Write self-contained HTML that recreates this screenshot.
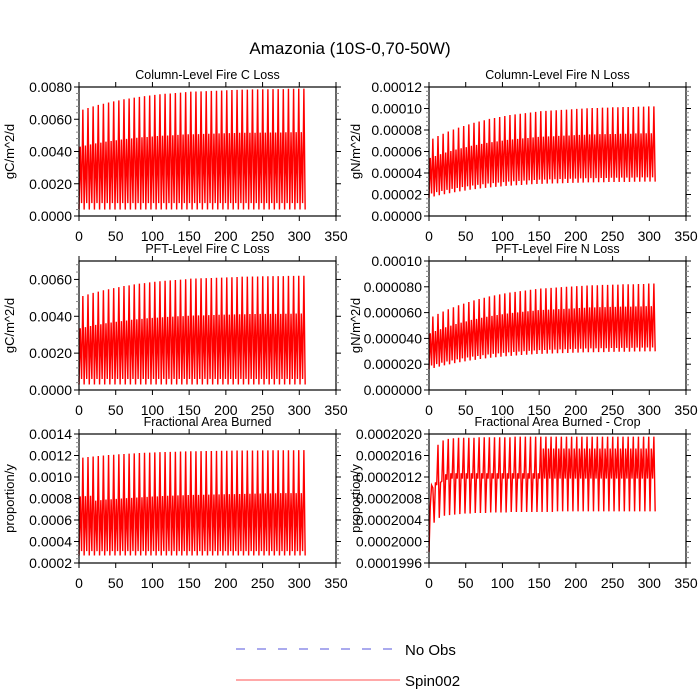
<!DOCTYPE html>
<html><head><meta charset="utf-8">
<style>
html,body{margin:0;padding:0;background:#fff;}
svg{display:block;font-family:"Liberation Sans",sans-serif;}
</style></head>
<body>
<svg id="chart" width="700" height="700" viewBox="0 0 700 700" xmlns="http://www.w3.org/2000/svg">
<rect width="700" height="700" fill="#fff"/>
<text x="350" y="54" font-size="17" text-anchor="middle">Amazonia (10S-0,70-50W)</text>
<g>
<line x1="236" y1="649" x2="393" y2="649" stroke="#5555dd" stroke-width="1" stroke-dasharray="9,12"/>
<text x="405" y="655" font-size="15">No Obs</text>
<line x1="236" y1="680" x2="400" y2="680" stroke="#ff5050" stroke-width="1"/>
<text x="405" y="686" font-size="15">Spin002</text>
</g>
<g id="panels"></g>
</svg>
<script>
// ---- data (each array has one value per annual cycle, 44 cycles, period 7 yrs) ----
const cycleYears = 7;
const xTicks = [0,50,100,150,200,250,300,350];

// Panel 1: Column-Level Fire C Loss (units 1e-4 gC/m^2/d)
const p1Peak = [66,67,68,68.9,69.6,70.4,71.1,71.7,72.4,72.9,73.4,73.9,74.3,74.7,75.1,75.5,75.8,76,76.3,76.5,76.8,77.1,77.2,77.3,77.4,77.6,77.7,77.8,78,78.1,78.2,78.4,78.4,78.5,78.5,78.6,78.6,78.7,78.7,78.7,78.9,78.9,79,79];
const p1Mid = [43,43.7,44.4,45,45.5,46.1,46.5,47,47.4,47.8,48.1,48.5,48.8,49,49.3,49.6,49.8,49.9,50.1,50.3,50.5,50.7,50.7,50.8,50.9,51,51.1,51.2,51.3,51.4,51.5,51.6,51.6,51.6,51.6,51.7,51.7,51.8,51.8,51.8,51.9,51.9,52,52];
const p1Low = [4,4,4,4,4,4,4,4,4,4,4,4,4,4,4,4,4,4,4,4,4,4,4,4,4,4,4,4,4,4,4,4,4,4,4,4,4,4,4,4,4,4,4,4];
const p1Low2 = [8,8,8,8,8,8,8,8,8,8,8,8,8,8,8,8,8,8,8,8,8,8,8,8,8,8,8,8,8,8,8,8,8,8,8,8,8,8,8,8,8,8,8,8];
const p1Ticks = ["0.0000","0.0020","0.0040","0.0060","0.0080"];

// Panel 2: PFT-Level Fire C Loss (units 1e-4)
const p2Peak = [51,51.9,52.7,53.4,54.1,54.7,55.3,55.8,56.4,56.8,57.3,57.7,58,58.4,58.7,59,59.3,59.5,59.7,59.9,60.1,60.4,60.5,60.6,60.7,60.8,60.9,61,61.1,61.2,61.3,61.5,61.5,61.6,61.6,61.7,61.7,61.8,61.8,61.8,61.9,61.9,62,62];
const p2Mid = [33.5,34.1,34.7,35.3,35.7,36.2,36.6,37,37.4,37.7,38.1,38.4,38.6,38.9,39.1,39.3,39.5,39.7,39.8,40,40.1,40.3,40.4,40.5,40.5,40.6,40.7,40.8,40.9,40.9,41,41.1,41.1,41.2,41.2,41.3,41.3,41.3,41.3,41.3,41.4,41.4,41.5,41.5];
const p2Low = [3,3,3,3,3,3,3,3,3,3,3,3,3,3,3,3,3,3,3,3,3,3,3,3,3,3,3,3,3,3,3,3,3,3,3,3,3,3,3,3,3,3,3,3];
const p2Low2 = [6,6,6,6,6,6,6,6,6,6,6,6,6,6,6,6,6,6,6,6,6,6,6,6,6,6,6,6,6,6,6,6,6,6,6,6,6,6,6,6,6,6,6,6];
const p2Ticks = ["0.0000","0.0020","0.0040","0.0060"];

// Panel 3: Fractional Area Burned (units 1e-5)
const p3Peak = [118,118.6,119.1,119.5,120,120.4,120.7,121.1,121.4,121.7,122,122.3,122.5,122.7,122.9,123.1,123.3,123.4,123.5,123.7,123.8,124,124,124.1,124.2,124.2,124.3,124.4,124.4,124.5,124.6,124.7,124.7,124.7,124.7,124.8,124.8,124.9,124.9,124.9,124.9,124.9,125,125];
const p3Mid = [82,82.2,82.5,78,78.5,79,79.3,79.6,80,80.3,80.6,80.9,81.2,81.5,81.8,82,82.3,82.5,82.7,82.9,83,83.2,83.3,83.4,83.5,83.6,83.7,83.8,83.9,84,84.1,84.2,84.3,84.4,84.5,84.6,84.7,84.8,84.9,85,85,85,85,85];
const p3Low = [27,27,27,27,27,27,27,27,27,27,27,27,27,27,27,27,27,27,27,27,27,27,27,27,27,27,27,27,27,27,27,27,27,27,27,27,27,27,27,27,27,27,27,27];
const p3Low2 = [31,31,31,31,31,31,31,31,31,31,31,31,31,31,31,31,31,31,31,31,31,31,31,31,31,31,31,31,31,31,31,31,31,31,31,31,31,31,31,31,31,31,31,31];
const p3Ticks = ["0.0002","0.0004","0.0006","0.0008","0.0010","0.0012","0.0014"];

// Panel 4: Column-Level Fire N Loss (units 1e-6)
const p4Peak = [72,74.4,76.5,78.6,80.4,82.2,83.7,85.2,86.7,87.9,89.1,90.3,91.2,92.1,93,93.9,94.5,95.1,95.7,96.3,96.9,97.5,97.8,98.1,98.4,98.7,99,99.3,99.6,99.9,100.2,100.5,100.5,100.8,100.8,101.1,101.1,101.4,101.4,101.4,101.7,101.7,102,102];
const p4Mid = [54,55.8,57.5,59.1,60.4,61.8,63,64.1,65.3,66.2,67.1,68,68.7,69.4,70.1,70.8,71.3,71.7,72.2,72.6,73.1,73.6,73.8,74,74.2,74.5,74.7,74.9,75.2,75.4,75.6,75.9,75.9,76.1,76.1,76.3,76.3,76.5,76.5,76.5,76.8,76.8,77,77];
const p4Low = [17,18.2,19.3,20.3,21.2,22.1,22.9,23.6,24.4,25,25.6,26.2,26.6,27.1,27.5,28,28.3,28.6,28.9,29.2,29.5,29.8,29.9,30.1,30.2,30.4,30.5,30.7,30.8,31,31.1,31.3,31.3,31.4,31.4,31.6,31.6,31.7,31.7,31.7,31.9,31.9,32,32];
const p4Low2 = [21,22.2,23.3,24.3,25.2,26.1,26.9,27.6,28.4,29,29.6,30.2,30.6,31.1,31.5,32,32.3,32.6,32.9,33.2,33.5,33.8,33.9,34.1,34.2,34.4,34.5,34.7,34.8,35,35.1,35.3,35.3,35.4,35.4,35.6,35.6,35.7,35.7,35.7,35.9,35.9,36,36];
const p4Ticks = ["0.00000","0.00002","0.00004","0.00006","0.00008","0.00010","0.00012"];

// Panel 5: PFT-Level Fire N Loss (units 1e-6)
const p5Peak = [57,59,60.8,62.6,64.1,65.7,66.9,68.2,69.5,70.5,71.5,72.6,73.3,74.1,74.9,75.6,76.1,76.6,77.1,77.7,78.2,78.7,78.9,79.2,79.4,79.7,80,80.2,80.5,80.7,81,81.2,81.2,81.5,81.5,81.7,81.7,82,82,82,82.2,82.2,82.5,82.5];
const p5Mid = [44,45.7,47.2,48.6,49.9,51.1,52.2,53.2,54.3,55.1,56,56.8,57.4,58.1,58.7,59.3,59.8,60.2,60.6,61,61.4,61.9,62.1,62.3,62.5,62.7,62.9,63.1,63.3,63.5,63.7,64,64,64.2,64.2,64.4,64.4,64.6,64.6,64.6,64.8,64.8,65,65];
const p5Low = [16,17.1,18.1,19.1,19.9,20.8,21.5,22.2,22.9,23.4,24,24.5,25,25.4,25.8,26.2,26.5,26.8,27.1,27.3,27.6,27.9,28,28.2,28.3,28.5,28.6,28.7,28.9,29,29.2,29.3,29.3,29.4,29.4,29.6,29.6,29.7,29.7,29.7,29.9,29.9,30,30];
const p5Low2 = [19,20.1,21.1,22.1,22.9,23.8,24.5,25.2,25.9,26.4,27,27.5,28,28.4,28.8,29.2,29.5,29.8,30.1,30.3,30.6,30.9,31,31.2,31.3,31.5,31.6,31.7,31.9,32,32.2,32.3,32.3,32.4,32.4,32.6,32.6,32.7,32.7,32.7,32.9,32.9,33,33];
const p5Ticks = ["0.000000","0.000020","0.000040","0.000060","0.000080","0.00010"];

// Panel 6: Fractional Area Burned - Crop (value = 0.0002 + v*1e-7)
const p6Peak = [1.0,1.8,1.88,1.91,1.92,1.93,1.93,1.93,1.93,1.94,1.94,1.94,1.94,1.94,1.94,1.94,1.95,1.95,1.95,1.95,1.95,1.95,1.95,1.95,1.95,1.95,1.95,1.95,1.95,1.95,1.95,1.95,1.95,1.95,1.95,1.95,1.95,1.95,1.95,1.95,1.95,1.95,1.95,1.95];
const p6Mid = [0.65,1.1,1.1,1.25,1.27,1.27,1.27,1.27,1.27,1.27,1.27,1.27,1.27,1.27,1.27,1.27,1.27,1.27,1.27,1.27,1.27,1.27,1.73,1.73,1.73,1.73,1.73,1.73,1.73,1.73,1.73,1.73,1.73,1.73,1.73,1.73,1.73,1.73,1.73,1.73,1.73,1.73,1.73,1.73];
const p6Low = [-0.2,0.35,0.44,0.48,0.49,0.5,0.51,0.52,0.52,0.53,0.53,0.53,0.54,0.54,0.54,0.54,0.55,0.55,0.55,0.55,0.55,0.55,0.55,0.55,0.55,0.56,0.56,0.56,0.56,0.56,0.56,0.56,0.56,0.56,0.56,0.56,0.56,0.56,0.56,0.56,0.56,0.56,0.56,0.56];
const p6Low2 = [1.05,1.05,1.12,1.15,1.17,1.17,1.17,1.17,1.17,1.17,1.17,1.17,1.17,1.17,1.17,1.17,1.17,1.17,1.17,1.17,1.17,1.17,1.17,1.17,1.17,1.17,1.17,1.17,1.17,1.17,1.17,1.17,1.17,1.17,1.17,1.17,1.17,1.17,1.17,1.17,1.17,1.17,1.17,1.17];
const p6Ticks = ["0.0001996","0.0002000","0.0002004","0.0002008","0.0002012","0.0002016","0.0002020"];

const panels = [
 {name:"column-fire-c-loss", title:"Column-Level Fire C Loss", ytitle:"gC/m^2/d", col:0,row:0, scale:1e-4, off:0, ymin:0, ymax:0.008, tStart:0, tStep:0.002, ticks:p1Ticks, minor:4, peak:p1Peak, mid:p1Mid, low:p1Low, low2:p1Low2},
 {name:"column-fire-n-loss", title:"Column-Level Fire N Loss", ytitle:"gN/m^2/d", col:1,row:0, scale:1e-6, off:0, ymin:0, ymax:0.00012, tStart:0, tStep:0.00002, ticks:p4Ticks, minor:4, peak:p4Peak, mid:p4Mid, low:p4Low, low2:p4Low2},
 {name:"pft-fire-c-loss", title:"PFT-Level Fire C Loss", ytitle:"gC/m^2/d", col:0,row:1, scale:1e-4, off:0, ymin:0, ymax:0.007, tStart:0, tStep:0.002, ticks:p2Ticks, minor:4, peak:p2Peak, mid:p2Mid, low:p2Low, low2:p2Low2},
 {name:"pft-fire-n-loss", title:"PFT-Level Fire N Loss", ytitle:"gN/m^2/d", col:1,row:1, scale:1e-6, off:0, ymin:0, ymax:0.0001, tStart:0, tStep:0.00002, ticks:p5Ticks, minor:4, peak:p5Peak, mid:p5Mid, low:p5Low, low2:p5Low2},
 {name:"fractional-area-burned", title:"Fractional Area Burned", ytitle:"proportion/y", col:0,row:2, scale:1e-5, off:0, ymin:0.0002, ymax:0.0014, tStart:0.0002, tStep:0.0002, ticks:p3Ticks, minor:4, peak:p3Peak, mid:p3Mid, low:p3Low, low2:p3Low2},
 {name:"fractional-area-burned-crop", title:"Fractional Area Burned - Crop", ytitle:"proportion/y", col:1,row:2, scale:1e-6, off:0.0002, ymin:0.0001996, ymax:0.000202, tStart:0.0001996, tStep:0.0000004, ticks:p6Ticks, minor:3, peak:p6Peak, mid:p6Mid, low:p6Low, low2:p6Low2}
];

const NS="http://www.w3.org/2000/svg";
const colX=[[79,336],[429,686]];
const rowY=[[87,216],[261,390],[434,563]];
const root=document.getElementById('panels');
function mk(tag,attrs,parent){const e=document.createElementNS(NS,tag);for(const k in attrs)e.setAttribute(k,attrs[k]);parent.appendChild(e);return e;}

panels.forEach(p=>{
  const [x0,x1]=colX[p.col],[y0,y1]=rowY[p.row];
  const xs=v=>x0+(v-0)/350*(x1-x0);
  const ys=v=>y1-(v-p.ymin)/(p.ymax-p.ymin)*(y1-y0);
  const g=mk('g',{},root);
  
  
  let pts=[];
  const n=p.peak.length;
  for(let i=0;i<n;i++){
    const t=i*cycleYears;
    const vals=[p.low[i],p.mid[i],p.low2[i],p.peak[i]];
    vals.forEach((v,k)=>{pts.push(xs(t+k*cycleYears/4).toFixed(2)+','+ys(p.off+v*p.scale).toFixed(2));});
  }
  pts.push(xs(n*cycleYears).toFixed(2)+','+ys(p.off+p.low[n-1]*p.scale).toFixed(2));
  const line=mk('polyline',{points:pts.join(' '),fill:'none',stroke:'#ff0000','stroke-width':'1.4','stroke-linejoin':'miter'},g);
  
  
  const fr=mk('rect',{x:x0,y:y0,width:x1-x0,height:y1-y0,fill:'none',stroke:'#000','stroke-width':'1.2'},g);
  
  
  xTicks.forEach(v=>{
    const x=xs(v);
    mk('line',{x1:x,y1:y1,x2:x,y2:y1+5,stroke:'#000','stroke-width':'1'},g);
    mk('line',{x1:x,y1:y0,x2:x,y2:y0-5,stroke:'#000','stroke-width':'1'},g);
    const tl=mk('text',{x:x,y:y1+25,'font-size':'14','text-anchor':'middle'},g);
    tl.textContent=String(v);
    
    
  });
  p.ticks.forEach((lab,i)=>{
    const v=p.tStart+i*p.tStep;
    const y=ys(v);
    mk('line',{x1:x0-5,y1:y,x2:x0,y2:y,stroke:'#000','stroke-width':'1'},g);
    mk('line',{x1:x1,y1:y,x2:x1+5,y2:y,stroke:'#000','stroke-width':'1'},g);
    const tl=mk('text',{x:x0-7,y:y+5,'font-size':'14','text-anchor':'end'},g);
    tl.textContent=lab;
    
    
    for(let m=1;m<=p.minor;m++){
      const mv=v+m*p.tStep/(p.minor+1);
      if(mv>p.ymax+1e-15) break;
      const my=ys(mv);
      mk('line',{x1:x0-3,y1:my,x2:x0,y2:my,stroke:'#888','stroke-width':'1'},g);
      mk('line',{x1:x1,y1:my,x2:x1+3,y2:my,stroke:'#888','stroke-width':'1'},g);
    }
  });
  const tt=mk('text',{x:(x0+x1)/2,y:y0-8,'font-size':'12.5','text-anchor':'middle'},g);
  tt.textContent=p.title;
  
  
  const yx=p.col===0?14:360, yc=(y0+y1)/2;
  const yt=mk('text',{x:yx,y:yc,'font-size':'13','text-anchor':'middle',transform:'rotate(-90 '+yx+' '+yc+')'},g);
  yt.textContent=p.ytitle;
  
  
});
</script>
</body></html>
